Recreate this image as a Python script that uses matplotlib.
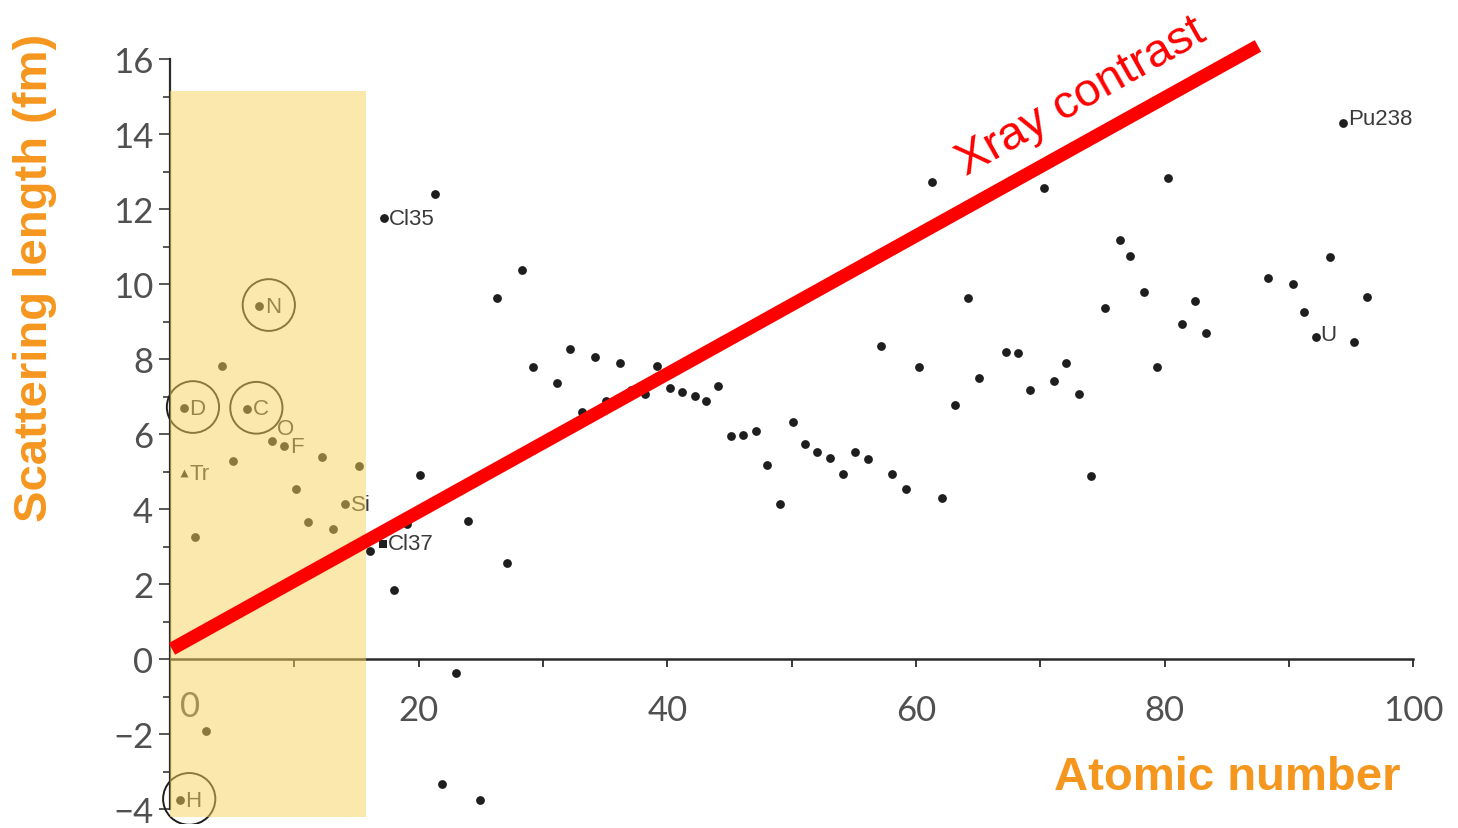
import matplotlib.pyplot as plt
from matplotlib.patches import Rectangle, Ellipse

# scattering length b (fm) against atomic number
z_vals = [0.8, 1.1, 2.0, 2.9, 4.2, 5.1, 6.2, 7.2, 8.2, 9.2, 10.1, 11.1, 12.2, 13.1,
          14.1, 15.2, 16.1, 17.2, 18.0, 19.1, 20.1, 21.3, 21.9, 23.0, 24.0, 24.9,
          26.3, 27.1, 28.3, 29.2, 31.1, 32.2, 33.1, 34.2, 35.1, 36.2, 37.1, 38.2,
          39.2, 40.2, 41.2, 42.2, 43.1, 44.1, 45.1, 46.1, 47.1, 48.0, 49.1, 50.1,
          51.1, 52.0, 53.1, 54.1, 55.1, 56.1, 57.2, 58.1, 59.2, 60.2, 61.3, 62.1,
          63.1, 64.2, 65.1, 67.2, 68.2, 69.2, 70.3, 71.1, 72.1, 73.1, 74.1, 75.2,
          76.4, 77.2, 78.3, 79.4, 80.3, 81.4, 82.4, 83.3, 88.3, 90.3, 91.2, 92.2,
          93.3, 94.3, 95.2, 96.3]
b_vals = [-3.76, 6.69, 3.25, -1.92, 7.81, 5.28, 6.67, 9.41, 5.81, 5.68, 4.53, 3.65,
          5.39, 3.47, 4.13, 5.15, 2.88, 11.76, 1.84, 3.6, 4.91, 12.4, -3.33, -0.37,
          3.68, -3.76, 9.63, 2.56, 10.37, 7.79, 7.36, 8.27, 6.59, 8.05, 6.88, 7.89,
          7.17, 7.07, 7.81, 7.23, 7.12, 7.01, 6.88, 7.28, 5.95, 5.97, 6.08, 5.17,
          4.13, 6.32, 5.73, 5.52, 5.36, 4.93, 5.52, 5.33, 8.35, 4.93, 4.53, 7.79,
          12.72, 4.29, 6.77, 9.63, 7.49, 8.19, 8.16, 7.17, 12.56, 7.41, 7.89, 7.07,
          4.88, 9.36, 11.17, 10.75, 9.79, 7.79, 12.83, 8.93, 9.55, 8.69, 10.16,
          10.0, 9.25, 8.59, 10.72, 14.29, 8.45, 9.65]

# tritium (triangle) and Cl37 (square)
tr_z, tr_b = [1.1], [4.96]
cl37_z, cl37_b = [17.1], [3.07]

# labelled points: name, z, b
labels = ["H", "D", "Tr", "C", "N", "O", "F", "Si", "Cl35", "Cl37", "U", "Pu238"]
label_z = [0.8, 1.1, 1.1, 6.2, 7.2, 8.2, 9.2, 14.1, 17.2, 17.1, 92.2, 94.3]
label_b = [-3.76, 6.69, 4.96, 6.67, 9.41, 5.81, 5.68, 4.13, 11.76, 3.07, 8.59, 14.29]
circled = ["H", "D", "C", "N"]

x_ticks = [20, 40, 60, 80, 100]
y_ticks = [-4, -2, 0, 2, 4, 6, 8, 10, 12, 14, 16]

# x-ray contrast line (b grows with Z)
xray_z = [0.16, 87.5]
xray_b = [0.27, 16.35]

orange = '#F5961E'
tick_font = dict(family=['Lato', 'DejaVu Sans'], color='#505050')

fig = plt.figure(figsize=(14.58, 8.29), dpi=100)
ax = fig.add_axes([0.0995, 0.0048, 0.8955, 0.9454])
ax.set_xlim(-2, 103)
ax.set_ylim(-4.4, 16.5)

ax.scatter(z_vals, b_vals, s=40, color='#1e1e1e', zorder=2, linewidths=0)
ax.scatter(tr_z, tr_b, s=32, marker='^', color='#1e1e1e', zorder=2, linewidths=0)
ax.scatter(cl37_z, cl37_b, s=32, marker='s', color='#1e1e1e', zorder=2, linewidths=0)

offsets = {"O": (4, 9), "U": (3, 2), "Pu238": (4, 3)}
for name, z, b in zip(labels, label_z, label_b):
    dx, dy = offsets.get(name, (4, 0))
    ax.annotate(name, (z, b), xytext=(dx, dy), textcoords='offset points',
                ha='left', va='center', fontsize=16, color='#3a3a3a',
                family=['Liberation Sans'], zorder=2)
    if name in circled:
        # hand drawn style ring round the element
        ax.add_patch(Ellipse((z + 0.75, b + 0.03), 4.2, 1.38, fill=False,
                             ec='#1e1e1e', lw=1.4, zorder=2))

# highlighted light elements region
ax.add_patch(Rectangle((0.0, -4.2), 15.8, 19.35, color='#F8D25A', alpha=0.5,
                       lw=0, zorder=3))

ax.plot(xray_z, xray_b, color='#FF0000', lw=9.5, solid_capstyle='butt', zorder=4)
ax.text(73.3, 15.0, "Xray contrast", rotation=29.5, rotation_mode='anchor',
        ha='center', va='center', fontsize=34, color='#FF0000',
        family=['Liberation Sans'], zorder=5)

for side in ['top', 'right']:
    ax.spines[side].set_visible(False)
ax.spines['left'].set_position(('data', 0))
ax.spines['bottom'].set_position(('data', 0))
ax.spines['left'].set_bounds(-4, 16)
ax.spines['bottom'].set_bounds(0, 100)
ax.spines['left'].set_linewidth(1.6)
ax.spines['bottom'].set_linewidth(1.8)
ax.spines['left'].set_color('#2a2a2a')
ax.spines['bottom'].set_color('#2a2a2a')

ax.set_yticks(y_ticks)
ax.set_yticks(range(-3, 16, 2), minor=True)
ax.set_yticklabels([str(t).replace('-', '\u2212') for t in y_ticks], fontsize=25, **tick_font)
ax.set_xticks(x_ticks)
ax.set_xticks(range(10, 100, 20), minor=True)
ax.set_xticklabels([str(t) for t in x_ticks], fontsize=25, **tick_font)
ax.tick_params(axis='y', which='major', direction='out', length=8, width=1.1,
               color='#2a2a2a', pad=4)
ax.tick_params(axis='y', which='minor', direction='out', length=5, width=1.1,
               color='#2a2a2a')
ax.tick_params(axis='x', which='both', direction='out', length=6, width=1.3,
               color='#2a2a2a', pad=19)
ax.text(1.6, -1.25, "0", ha='center', va='center', fontsize=25, zorder=2, **tick_font)

fig.text(0.024, 0.665, "Scattering length (fm)", rotation=90, ha='center', va='center',
         fontsize=34, fontweight='bold', color=orange, family=['Liberation Sans'])
fig.text(0.842, 0.0615, "Atomic number", ha='center', va='center',
         fontsize=34, fontweight='bold', color=orange, family=['Liberation Sans'])

fig.savefig('out.png', dpi=100)
